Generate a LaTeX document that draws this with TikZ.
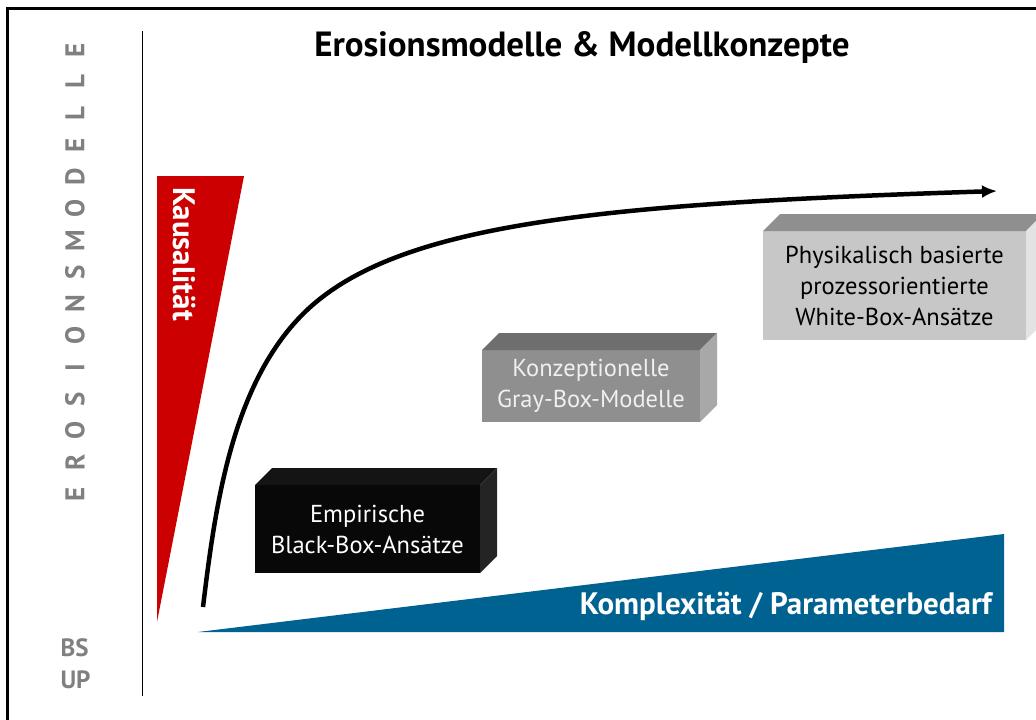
\documentclass[tikz,border=0pt]{standalone}
\usepackage{fontspec}
\setmainfont{PT Sans}
\usetikzlibrary{arrows.meta}

\begin{document}
\begin{tikzpicture}[x=1pt,y=-1pt]
  % some colors
  \colorlet{kausal}{red!80!black}
  \definecolor{komplex}{RGB}{0,98,145}
  \colorlet{label}{black!50}
  \colorlet{blackfront}{black!97}
  \colorlet{blacktop}{black!92}
  \colorlet{blackside}{black!86}
  \colorlet{grayfront}{black!44}
  \colorlet{graytop}{black!57}
  \colorlet{grayside}{black!34}
  \colorlet{whitefront}{black!22}
  \colorlet{whitetop}{black!44}
  \colorlet{whiteside}{black!11}
  % some styles
  \tikzset{
    cube/.style={
      fill=#1,
      inner sep=0pt,
      outer sep=0pt,
      align=center,
      font=\fontsize{24.5}{31}\selectfont,
    },
    banner/.style={
      text=white,
      font=\bfseries\fontsize{31}{34}\selectfont,
      inner sep=0pt,
    },
    trend/.style={-{Latex[length=15pt,width=13pt]},line width=4.5pt},
  }
  \clip (0,0) rectangle (1036,720);
  % frame and separator
  \draw[line width=3pt] (7.5,8.5) rectangle (1050,735);
  \draw[line width=1pt] (142,31) -- (142,696);
  % side label
  \foreach \ch [count=\i from 0] in {E,R,O,S,I,O,N,S,M,O,D,E,L,L,E} {
    \node[text=label,font=\bfseries\fontsize{27}{27}\selectfont,rotate=90,inner sep=0pt]
      (side-\i) at (75,494-\i*31.7) {\ch};
  }
  \node[text=label,font=\bfseries\fontsize{25}{32}\selectfont,align=left,anchor=north west]
    (bsup) at (57,635) {BS\\UP};
  % title
  \node[font=\bfseries\fontsize{35}{37}\selectfont] (title) at (582,48)
    {Erosionsmodelle \& Modellkonzepte};
  % Kausalitaet wedge
  \coordinate (k-top-left) at (157,176);
  \coordinate (k-top-right) at (244,176);
  \coordinate (k-tip) at (157,622);
  \fill[kausal] (k-top-left) -- (k-top-right) -- (k-tip) -- cycle;
  \node[banner,rotate=-90] (kausal) at (184,254) {Kausalität};
  % Komplexitaet wedge
  \coordinate (p-tip) at (198,632);
  \coordinate (p-top-right) at (1004,534);
  \coordinate (p-bottom-right) at (1004,632);
  \fill[komplex] (p-tip) -- (p-top-right) -- (p-bottom-right) -- cycle;
  \node[banner,anchor=base east] (komplex) at (992,614)
    {Komplexität / Parameterbedarf};
  % the three model boxes (front faces)
  \node[cube=blackfront,text=white,minimum width=225pt,minimum height=88pt]
    (empirisch) at (367.5,529) {Empirische\\Black-Box-Ansätze};
  \node[cube=grayfront,text=black!6,minimum width=218pt,minimum height=72pt]
    (konzept) at (591,386) {Konzeptionelle\\Gray-Box-Modelle};
  \node[cube=whitefront,text=black,minimum width=263pt,minimum height=109pt]
    (physik) at (894.5,285.5) {Physikalisch basierte\\prozessorientierte\\White-Box-Ansätze};
  % top and side faces
  \foreach \b/\tcol/\scol in {empirisch/blacktop/blackside,
                              konzept/graytop/grayside,
                              physik/whitetop/whiteside} {
    \fill[\tcol] (\b.north west) -- ([shift={(17,-17)}]\b.north west)
      -- ([shift={(17,-17)}]\b.north east) -- (\b.north east) -- cycle;
    \fill[\scol] (\b.north east) -- ([shift={(17,-17)}]\b.north east)
      -- ([shift={(17,-17)}]\b.south east) -- (\b.south east) -- cycle;
  }
  % trend curve
  \coordinate (start) at (203,607);
  \coordinate (bend) at (300,317);
  \coordinate (end) at (997,191);
  \draw[trend] (start) .. controls (215,508) and (231,389) .. (bend)
    .. controls (390,223) and (597,204) .. (end);
\end{tikzpicture}
\end{document}
